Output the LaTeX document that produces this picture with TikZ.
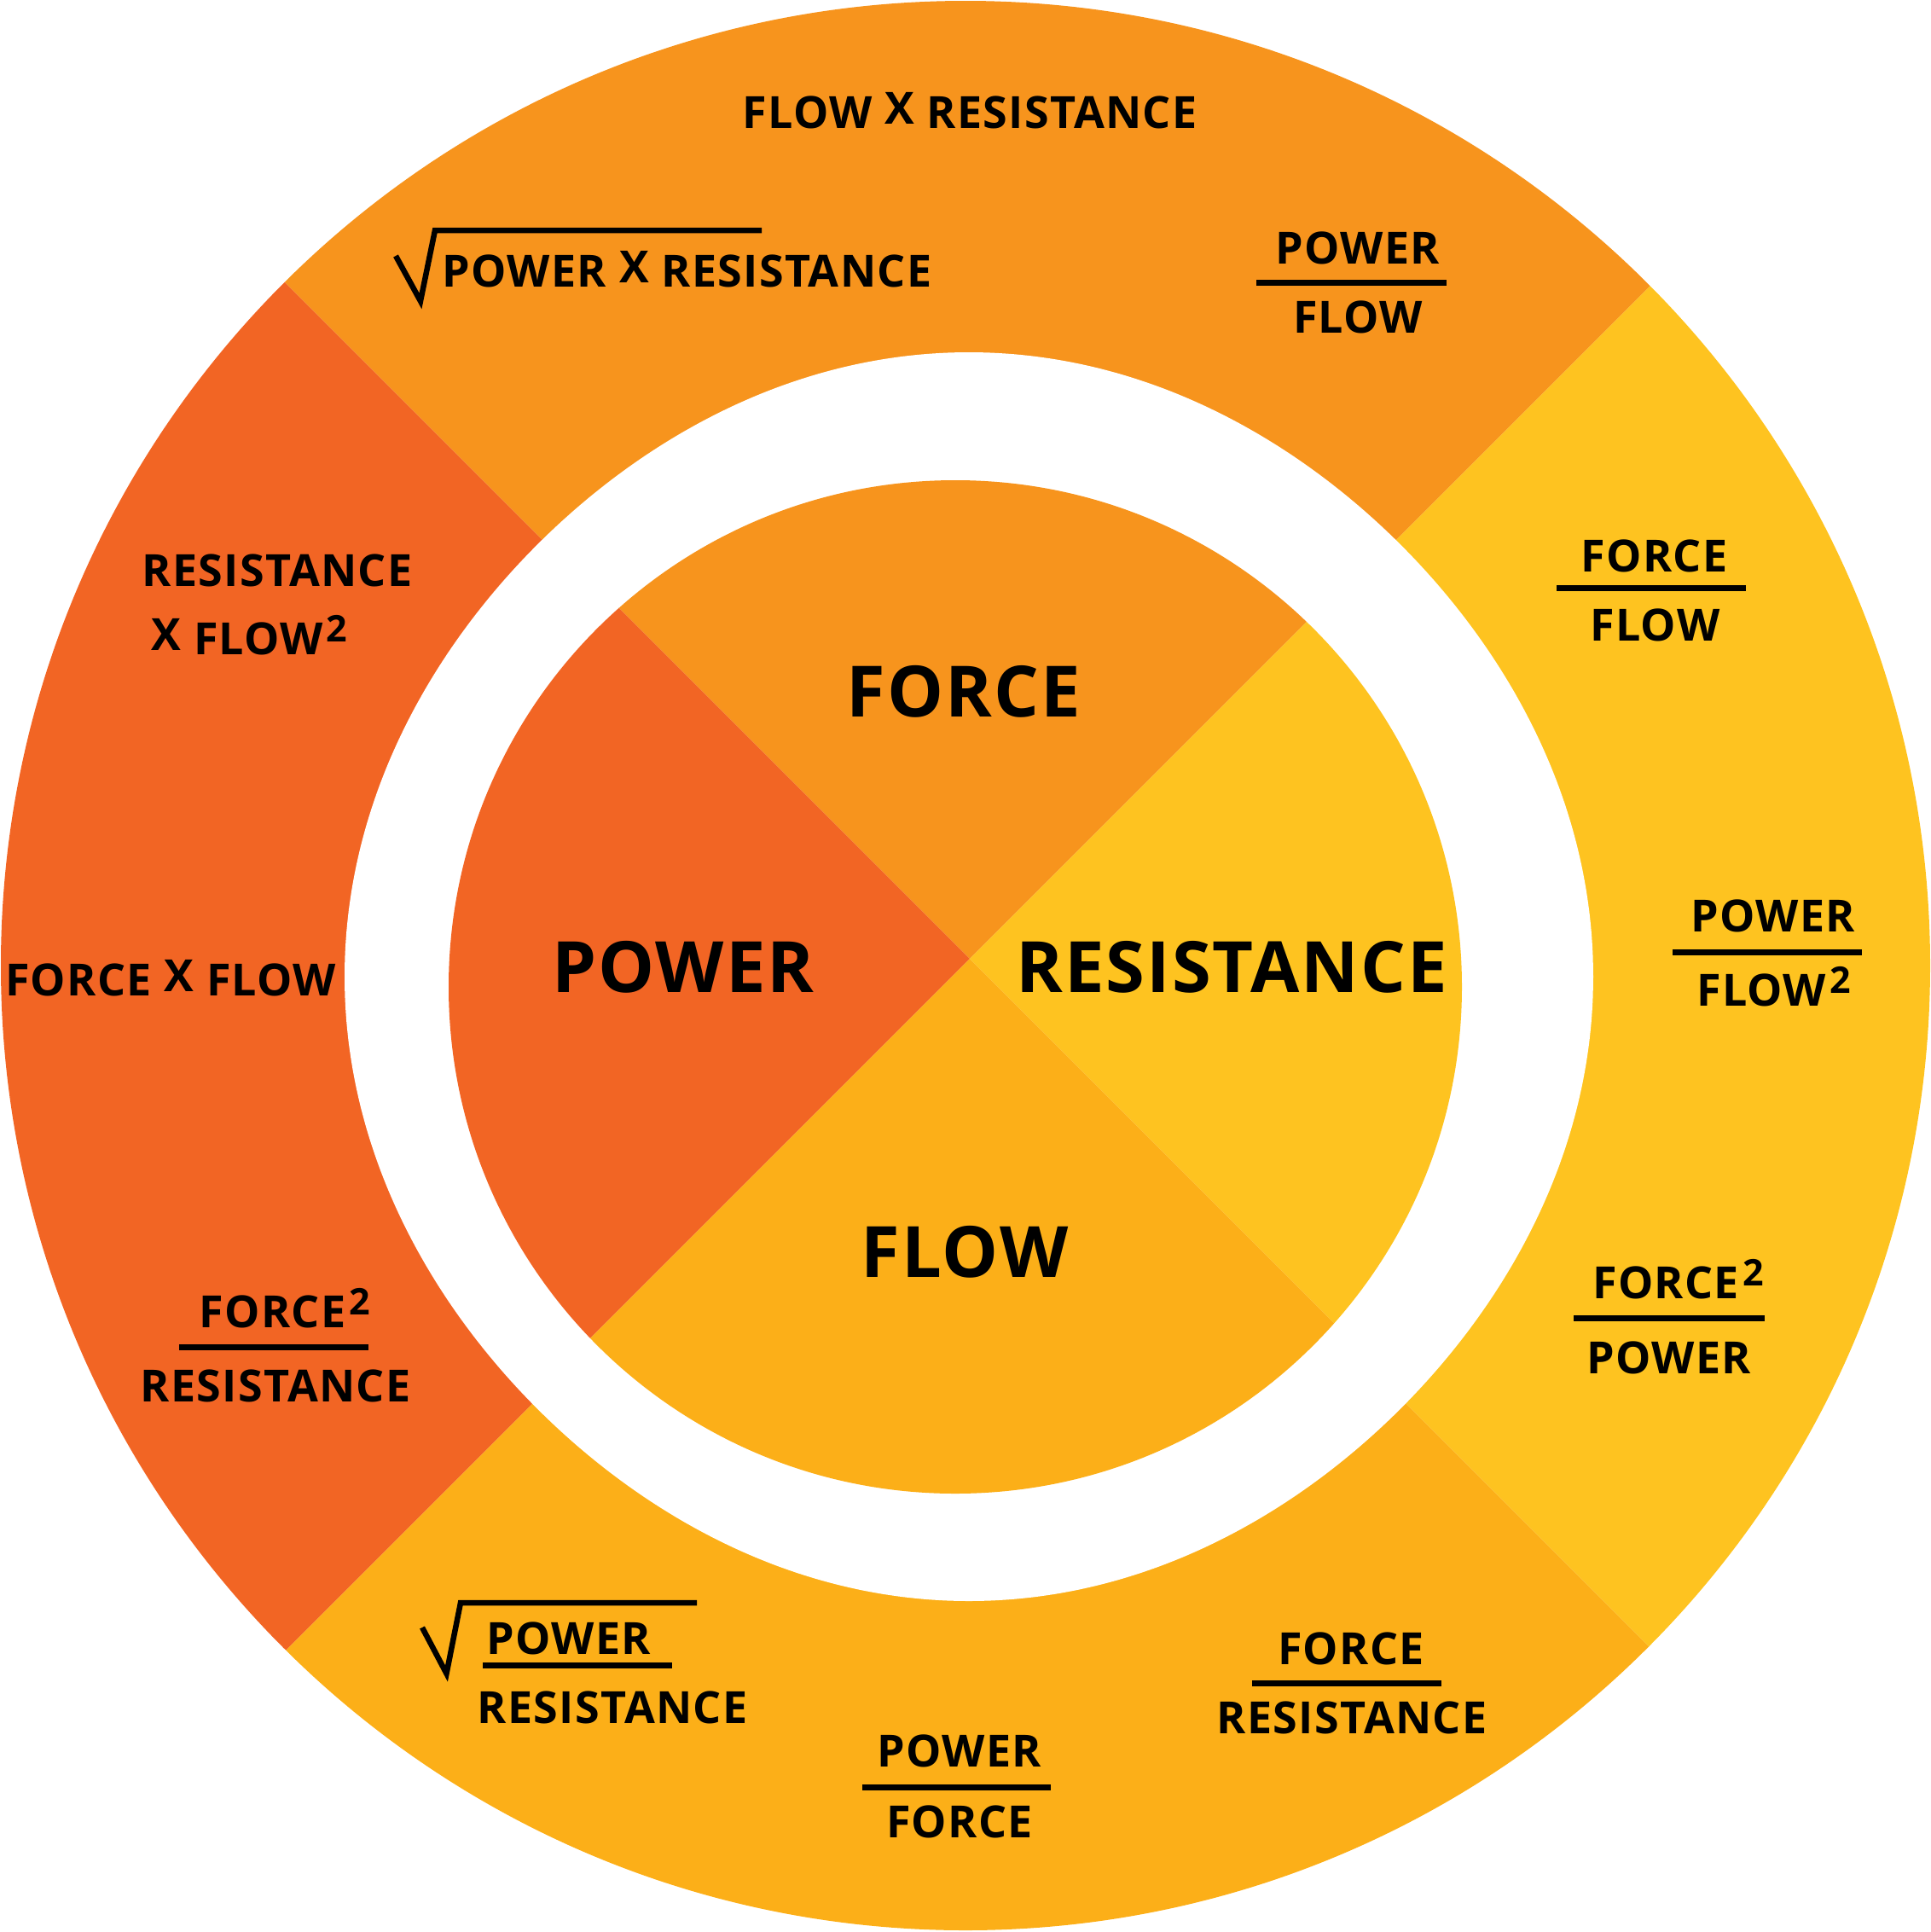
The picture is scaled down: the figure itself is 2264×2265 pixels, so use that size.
\documentclass[tikz,border=0pt]{standalone}
\usepackage{fontspec}
\setmainfont{Open Sans}[LetterSpace=2.5]
\definecolor{cTop}{RGB}{247,148,29}
\definecolor{cLeft}{RGB}{242,101,36}
\definecolor{cRight}{RGB}{254,195,32}
\definecolor{cBottom}{RGB}{252,175,24}
\newcommand{\tX}{\raisebox{5pt}{X}}
\newcommand{\sqd}{\kern4pt\raisebox{15pt}{\fontsize{43}{43}\selectfont 2}}
\tikzset{
  sm/.style={font=\fontsize{52}{52}\selectfont\bfseries, inner sep=0pt, anchor=base, text=black},
  big/.style={font=\fontsize{83}{83}\selectfont\bfseries, inner sep=0pt, anchor=base, text=black},
  fbar/.style={line width=7pt, black},
  rad/.style={line width=6.5pt, black, miter limit=20}
}
\begin{document}
\begin{tikzpicture}[x=1pt,y=-1pt]
\useasboundingbox (0,0) rectangle (2264,2265);
% outer ring quadrants
\begin{scope}
  \clip (1132,1132) circle (1131);
  \coordinate (O) at (1136.5,1133.5);
  \fill[cTop] (O) -- ++(-1400,-1400) -- ++(2800,0) -- cycle;
  \fill[cLeft] (O) -- ++(-1400,-1400) -- ++(0,2800) -- cycle;
  \fill[cRight] (O) -- ++(1400,-1400) -- ++(0,2800) -- cycle;
  \fill[cBottom] (O) -- ++(-1400,1400) -- ++(2800,0) -- cycle;
\end{scope}
% white gap
\fill[white] plot[domain=0:360, samples=181, smooth]
  ({1136+(724+8*cos(4*\x))*cos(\x)}, {1145+(724+8*cos(4*\x))*sin(\x)}) -- cycle;
% inner circle quadrants
\begin{scope}
  \clip (1120,1157) circle (594);
  \coordinate (C) at (1137,1124);
  \fill[cTop] (C) -- ++(-900,-900) -- ++(1800,0) -- cycle;
  \fill[cLeft] (C) -- ++(-900,-900) -- ++(0,1800) -- cycle;
  \fill[cRight] (C) -- ++(900,-900) -- ++(0,1800) -- cycle;
  \fill[cBottom] (C) -- ++(-900,900) -- ++(1800,0) -- cycle;
\end{scope}
% big labels
\node[big] (force) at (1130,840) {FORCE};
\node[big] (power) at (801,1163) {POWER};
\node[big] (resistance) at (1444,1163) {RESISTANCE};
\node[big] (flow) at (1131,1497) {FLOW};
% top band
\node[sm] (flowxres) at (1137,150) {FLOW \tX{} RESISTANCE};
\node[sm] (pxr) at (805.5,336) {POWER \tX{} RESISTANCE};
\draw[rad] (464,300) -- (493,353) -- (510,270) -- (893,270);
\node[sm] (pf1n) at (1591.5,309) {POWER};
\draw[fbar] (1473,331) -- (1696,331);
\node[sm] (pf1d) at (1592,390) {FLOW};
% right band
\node[sm] (ffn) at (1939.5,670) {FORCE};
\draw[fbar] (1825,689.5) -- (2047,689.5);
\node[sm] (ffd) at (1940.5,751) {FLOW};
\node[sm] (pf2n) at (2079,1092) {POWER};
\draw[fbar] (1961,1116.5) -- (2182.6,1116.5);
\node[sm] (pf2d) at (2079.5,1179) {FLOW\sqd};
\node[sm] (f2pn) at (1967.5,1522) {FORCE\sqd};
\draw[fbar] (1845,1545.5) -- (2068.5,1545.5);
\node[sm] (f2pd) at (1957,1610) {POWER};
% bottom band
\node[sm] (frn) at (1584,1951.5) {FORCE};
\draw[fbar] (1468,1973) -- (1690,1973);
\node[sm] (frd) at (1585,2032) {RESISTANCE};
\node[sm] (pfn) at (1125,2071) {POWER};
\draw[fbar] (1011,2095.5) -- (1232,2095.5);
\node[sm] (pfd) at (1125,2154) {FORCE};
\node[sm] (prn) at (667,1939) {POWER};
\draw[fbar] (566,1952) -- (788,1952);
\node[sm] (prd) at (718,2020) {RESISTANCE};
\draw[rad] (495,1908) -- (523.5,1962) -- (540,1879) -- (817,1879);
% left band
\node[sm] (f2rn) at (334,1556) {FORCE\sqd};
\draw[fbar] (210,1579) -- (432,1579);
\node[sm] (f2rd) at (323,1643) {RESISTANCE};
\node[sm] (fxf) at (200,1167) {FORCE \tX{} FLOW};
\node[sm] (rxf1) at (325,687) {RESISTANCE};
\node[sm] (rxf2) at (292.5,767) {\tX{} FLOW\sqd};
\end{tikzpicture}
\end{document}
